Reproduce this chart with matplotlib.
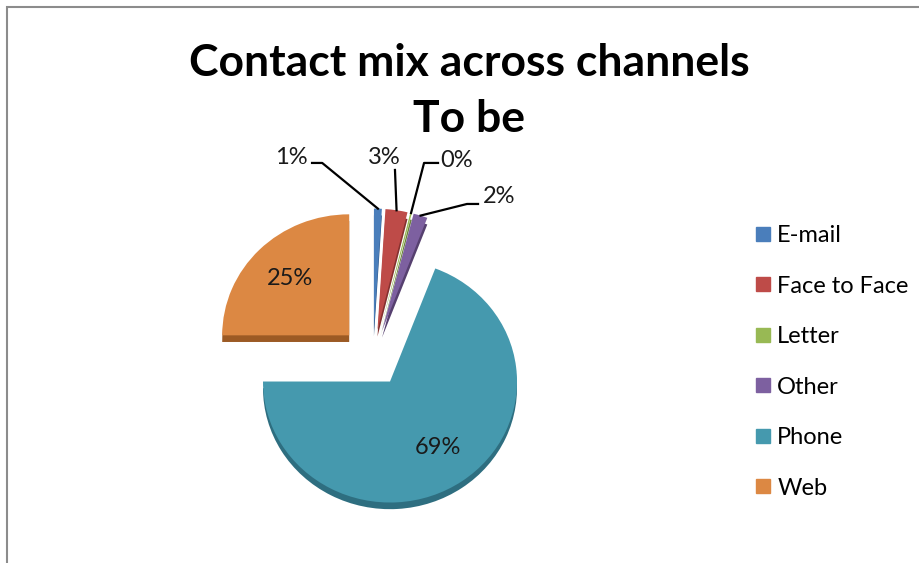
import matplotlib.pyplot as plt
import matplotlib.patches as mp
import numpy as np

# Dados do gráfico (percentuais por canal)
canais = ['E-mail', 'Face to Face', 'Letter', 'Other', 'Phone', 'Web']
valores = [1.0, 2.8, 0.2, 1.8, 69.2, 25.0]
rotulos = ['1%', '3%', '0%', '2%', '69%', '25%']

cores = ['#4A7EBB', '#BE4B48', '#98B954', '#7D60A0', '#4599AE', '#DC8843']
cores_lado = ['#2F5584', '#84312F', '#6A843A', '#56406F', '#2E6E80', '#9C5A24']
explode = [0.235, 0.235, 0.235, 0.235, 0.236, 0.265]

plt.rcParams['font.family'] = ['Lato', 'DejaVu Sans']

fig = plt.figure(figsize=(9.2, 5.63), dpi=100)
ax = fig.add_axes([0, 0, 1, 1])

# "lado" da pizza (efeito 3D simples)
ax.pie(valores, explode=explode, colors=cores_lado, startangle=90,
       counterclock=False, center=(0, -0.055))
fatias, _ = ax.pie(valores, explode=explode, colors=cores, startangle=90,
                   counterclock=False)

# escala: raio de 127 px na horizontal e 121 px na vertical (leve inclinação 3D)
rx, ry = 127, 121
cx, cy = 373, 358
ax.set_aspect('auto')
ax.set_xlim(-cx / rx, (920 - cx) / rx)
ax.set_ylim(-(563 - cy) / ry, cy / ry)
ax.axis('off')

def ponto(w, frac):
    ang = np.deg2rad((w.theta1 + w.theta2) / 2)
    x0, y0 = w.center
    return x0 + frac * w.r * np.cos(ang), y0 + frac * w.r * np.sin(ang)

# rótulos internos
for i in [4, 5]:
    x, y = ponto(fatias[i], 0.66)
    ax.text(x, y, rotulos[i], ha='center', va='center', fontsize=17, color='#1a1a1a')

# rótulos externos com linhas de chamada
externos = {
    0: ((-0.646, 1.661), [(-0.48, 1.612), (-0.40, 1.612)]),
    1: ((0.087, 1.661), [(0.173, 1.554)]),
    2: ((0.661, 1.636), [(0.512, 1.612), (0.402, 1.612)]),
    3: ((0.992, 1.331), [(0.827, 1.273), (0.740, 1.273)]),
}
for i, (pos_txt, cotovelo) in externos.items():
    ax.text(pos_txt[0], pos_txt[1], rotulos[i], ha='center', va='center',
            fontsize=17, color='#1a1a1a')
    x, y = ponto(fatias[i], 1.0)
    pts = cotovelo + [(x, y)]
    ax.plot([p[0] for p in pts], [p[1] for p in pts], color='black', lw=1.6)

# título
fig.text(0.51, 1 - 63 / 563, 'Contact mix across channels', ha='center', va='center',
         fontsize=32, fontweight='bold')
fig.text(0.51, 1 - 119 / 563, 'To be', ha='center', va='center',
         fontsize=32, fontweight='bold')

# legenda
handles = [mp.Patch(color=c, label=l) for c, l in zip(cores, canais)]
fig.legend(handles=handles, loc='upper left', bbox_to_anchor=(756 / 920, 1 - 225 / 563),
           frameon=False, fontsize=17, handlelength=0.6, handleheight=0.55,
           handletextpad=0.3, labelspacing=1.25, borderaxespad=0, borderpad=0)

# moldura
fig.patches.append(mp.Rectangle((7 / 920, -0.2), 1.2, 1.2 - 7 / 563, transform=fig.transFigure,
                                fill=False, edgecolor='#8C8C8C', lw=1.5))

fig.savefig('out.png', dpi=100)
